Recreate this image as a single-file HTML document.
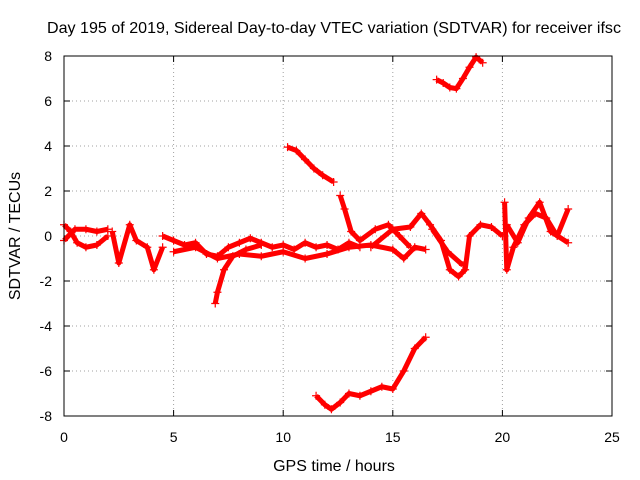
<!DOCTYPE html>
<html><head><meta charset="utf-8"><style>
body{margin:0;background:#fff}
svg{display:block;font-family:"Liberation Sans",sans-serif}
</style></head><body>
<svg id="c" width="640" height="480">
<rect width="640" height="480" fill="#fff"/>
<text x="334" y="33" font-size="16" text-anchor="middle" textLength="574" lengthAdjust="spacingAndGlyphs">Day 195 of 2019, Sidereal Day-to-day VTEC variation (SDTVAR) for receiver ifsc</text>
<text x="334" y="471" font-size="16" text-anchor="middle">GPS time / hours</text>
<text x="20" y="236" font-size="16" text-anchor="middle" transform="rotate(-90 20 236)">SDTVAR / TECUs</text>
<g id="grid"></g><g id="marks"></g>
<rect x="64" y="56" width="548" height="360" fill="none" stroke="#000" stroke-width="1"/>
</svg>
<script>
const xTicks=[0,5,10,15,20,25];
const yTicks=[-8,-6,-4,-2,0,2,4,6,8];
const trackTopRight=[[17.0,6.95],[17.3,6.8],[17.6,6.6],[17.9,6.55],[18.2,7.0],[18.5,7.5],[18.8,7.95],[19.1,7.7]];
const trackUpper=[[10.2,3.95],[10.6,3.8],[11.0,3.4],[11.4,3.0],[11.8,2.7],[12.3,2.4]];
const trackBottom=[[11.5,-7.1],[11.9,-7.5],[12.2,-7.7],[12.6,-7.4],[13.0,-7.0],[13.5,-7.1],[14.0,-6.9],[14.5,-6.7],[15.0,-6.8],[15.5,-6.0],[16.0,-5.0],[16.5,-4.5]];
const trackA=[[0,0.5],[0.3,0.2],[0.6,-0.3],[1,-0.5],[1.5,-0.4],[2,0.0]];
const trackB=[[0,-0.2],[0.5,0.3],[1,0.3],[1.5,0.2],[2,0.3]];
const trackC=[[2.2,0.2],[2.5,-1.2],[3,0.5],[3.3,-0.2],[3.8,-0.5],[4.1,-1.5],[4.5,-0.5]];
const trackD=[[4.5,0],[5,-0.2],[5.5,-0.4],[6,-0.3],[6.5,-0.8],[7,-0.9],[7.5,-0.5],[8,-0.3],[8.5,-0.1],[9,-0.3],[9.5,-0.5],[10,-0.4],[10.5,-0.6],[11,-0.3],[11.5,-0.5],[12,-0.4],[12.5,-0.6],[13,-0.3],[13.5,-0.5]];
const trackE=[[5,-0.7],[6,-0.5],[7,-1.0],[8,-0.8],[9,-0.9],[10,-0.7],[11,-1.0],[12,-0.8],[13,-0.5],[14,-0.4],[15,-0.6],[15.5,-1.0],[16,-0.5],[16.5,-0.6]];
const trackF=[[6.9,-3.0],[7.0,-2.5],[7.3,-1.5],[7.7,-0.9],[8.3,-0.6],[9,-0.4]];
const trackG=[[12.6,1.8],[12.8,1.2],[13.1,0.2],[13.5,-0.2],[14.2,0.3],[14.8,0.5],[15.3,0],[15.8,-0.5]];
const trackH=[[14,-0.5],[15,0.3],[15.8,0.4],[16.3,1.0],[16.7,0.5],[17.2,-0.2],[17.6,-1.5],[18,-1.8],[18.3,-1.5],[18.5,0],[19,0.5],[19.5,0.4],[20,0]];
const trackI=[[16.8,0.3],[17.5,-0.7],[18.2,-1.3]];
const trackJ=[[20.1,1.5],[20.2,-1.5],[20.5,-0.5],[21,0.5],[21.5,1.0],[22,0.8],[22.5,0],[23,1.2]];
const trackK=[[20.2,0.5],[20.7,-0.3],[21.2,0.8],[21.7,1.5],[22.2,0.2],[23,-0.3]];
const tracks=[trackTopRight,trackUpper,trackBottom,trackA,trackB,trackC,trackD,trackE,trackF,trackG,trackH,trackI,trackJ,trackK];
const NS='http://www.w3.org/2000/svg';
const X=v=>64+v*548/25, Y=v=>236-v*22.5;
const grid=document.getElementById('grid'), marks=document.getElementById('marks');
function mk(t,a,p){const e=document.createElementNS(NS,t);for(const k in a)e.setAttribute(k,a[k]);p.appendChild(e);return e;}
xTicks.forEach(t=>{
 if(t>0&&t<25){const l=mk('line',{x1:X(t),x2:X(t),y1:56,y2:416,stroke:'#a0a0a0','stroke-dasharray':'1,3'},grid);
 
 }
 const tx=mk('text',{x:X(t),y:442,'font-size':14,'text-anchor':'middle'},grid);tx.textContent=t;
 
 
 mk('line',{x1:X(t),x2:X(t),y1:416,y2:410,stroke:'#000'},grid);
 mk('line',{x1:X(t),x2:X(t),y1:56,y2:62,stroke:'#000'},grid);
});
yTicks.forEach(t=>{
 if(t>-8&&t<8){const l=mk('line',{x1:64,x2:612,y1:Y(t),y2:Y(t),stroke:'#a0a0a0','stroke-dasharray':'1,3'},grid);
 
 }
 const tx=mk('text',{x:52,y:Y(t)+5,'font-size':14,'text-anchor':'end'},grid);tx.textContent=t;
 
 
 mk('line',{x1:64,x2:70,y1:Y(t),y2:Y(t),stroke:'#000'},grid);
 mk('line',{x1:612,x2:606,y1:Y(t),y2:Y(t),stroke:'#000'},grid);
});
tracks.forEach(tr=>{
 const pl=mk('polyline',{points:tr.map(p=>X(p[0])+','+Y(p[1])).join(' '),fill:'none',stroke:'#f00','stroke-width':5,'stroke-linejoin':'round'},marks);
 
 
 tr.forEach(p=>{
  const x=X(p[0]),y=Y(p[1]);
  const m=mk('path',{d:`M${x-4},${y}H${x+4}M${x},${y-4}V${y+4}`,stroke:'#f00','stroke-width':1.2},marks);
  
  
 });
});
</script>
</body></html>
